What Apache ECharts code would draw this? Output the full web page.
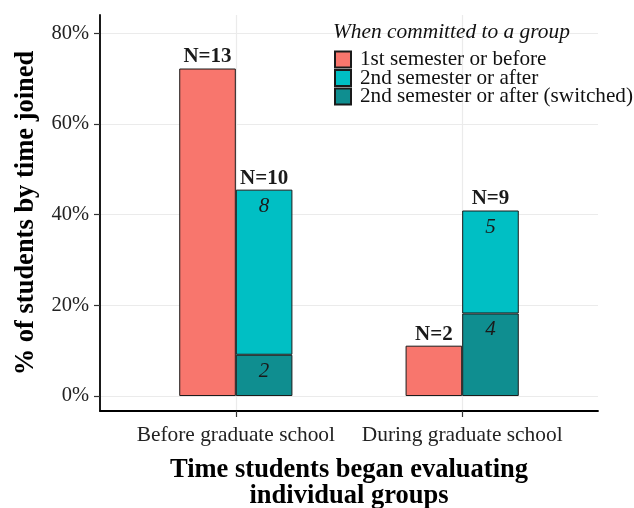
<!DOCTYPE html>
<html>
<head>
<meta charset="utf-8">
<script src="https://cdn.jsdelivr.net/npm/echarts@6/dist/echarts.min.js"></script>
<style>
html,body{margin:0;padding:0;background:#fff;}
#c{width:634px;height:508px;}
</style>
</head>
<body>
<div id="c"></div>
<script>
// ---- data ----
var categories = ['Before graduate school', 'During graduate school'];
var categoryPos = [1, 2];
var firstPct = [72.2, 11.1];
var firstN = [13, 2];
var secondPct = [36.4, 22.7];
var secondCount = [8, 5];
var switchedPct = [9.1, 18.2];
var switchedCount = [2, 4];
var secondTotalN = [10, 9];
var totalsBase = [0, 0];
var yTicks = [0, 20, 40, 60, 80];
var seriesNames = ['1st semester or before', '2nd semester or after', '2nd semester or after (switched)'];

var FONT = '"Liberation Serif", "DejaVu Serif", serif';

// discrete-axis geometry (ggplot style: 0.6 expansion on each side)
var G_LEFT = 100, G_RIGHT = 36, W = 634;
var plotW = W - G_LEFT - G_RIGHT;
var unit = plotW / 2.2;
var YMIN = -3.3, YMAX = 84;

var chart = echarts.init(document.getElementById('c'));
var border = { borderColor: '#1a1a1a', borderWidth: 1 };
var barW = '25%';
chart.setOption({
  animation: false,
  textStyle: { fontFamily: FONT },
  grid: [
    { left: G_LEFT, right: G_RIGHT, top: 15, bottom: 97, containLabel: false, outerBoundsMode: 'none' },
    { left: G_LEFT + 0.1 * unit, right: G_RIGHT + 0.1 * unit, top: 15, bottom: 97, containLabel: false, outerBoundsMode: 'none' }
  ],
  title: {
    text: 'When committed to a group',
    left: 328, top: 17,
    textStyle: { fontFamily: FONT, fontStyle: 'italic', fontWeight: 'normal', fontSize: 21.4, color: '#111' }
  },
  legend: {
    data: seriesNames,
    orient: 'vertical',
    left: 329, top: 44,
    itemWidth: 16, itemHeight: 16, itemGap: -2.5,
    icon: 'rect',
    textStyle: { fontFamily: FONT, fontSize: 21.2, color: '#111', padding: [0, 0, 0, 4] }
  },
  xAxis: [
    {
      gridIndex: 0,
      type: 'value',
      min: 0.4, max: 2.6,
      axisLine: { show: true, onZero: false, lineStyle: { color: '#000', width: 1.8 } },
      axisTick: { show: true, customValues: categoryPos, length: 6, lineStyle: { color: '#333', width: 1.2 } },
      axisLabel: {
        customValues: categoryPos,
        formatter: function (v) { return categories[categoryPos.indexOf(v)] || ''; },
        fontFamily: FONT, fontSize: 21.4, color: '#222', margin: 14
      },
      splitLine: { show: true, lineStyle: { color: '#ebebeb', width: 1.2 } },
      name: 'Time students began evaluating\nindividual groups',
      nameLocation: 'middle',
      nameGap: 46,
      nameTextStyle: { fontFamily: FONT, fontWeight: 'bold', fontSize: 26.5, color: '#000', lineHeight: 26, verticalAlign: 'top' }
    },
    {
      gridIndex: 1,
      type: 'category',
      data: categories,
      show: false
    }
  ],
  yAxis: [
    {
      gridIndex: 0,
      type: 'value',
      min: YMIN, max: YMAX,
      axisLine: { show: true, onZero: false, lineStyle: { color: '#000', width: 1.8 } },
      axisTick: { show: true, customValues: yTicks, length: 6, lineStyle: { color: '#333', width: 1.2 } },
      axisLabel: {
        customValues: yTicks,
        formatter: '{value}%',
        fontFamily: FONT, fontSize: 20.5, color: '#222', margin: 11
      },
      splitLine: { show: true, lineStyle: { color: '#ebebeb', width: 1.2 } },
      name: '% of students by time joined',
      nameLocation: 'middle',
      nameGap: 60,
      nameTextStyle: { fontFamily: FONT, fontWeight: 'bold', fontSize: 26.5, color: '#000' }
    },
    {
      gridIndex: 1,
      type: 'value',
      min: YMIN, max: YMAX,
      show: false,
      splitLine: { show: false }
    }
  ],
  series: [
    {
      name: seriesNames[0], type: 'bar', stack: 'a',
      xAxisIndex: 1, yAxisIndex: 1,
      barWidth: barW, barGap: '0%',
      data: firstPct,
      itemStyle: Object.assign({ color: '#F8766D' }, border),
      label: {
        show: true, position: 'top', distance: 1,
        formatter: function (p) { return 'N=' + firstN[p.dataIndex]; },
        fontFamily: FONT, fontWeight: 'bold', fontSize: 21, color: '#1a1a1a'
      }
    },
    {
      name: seriesNames[2], type: 'bar', stack: 'b',
      xAxisIndex: 1, yAxisIndex: 1,
      barWidth: barW, barGap: '0%',
      data: switchedPct,
      itemStyle: Object.assign({ color: '#0F8E90' }, border),
      label: {
        show: true, position: 'insideTop', distance: 6,
        formatter: function (p) { return switchedCount[p.dataIndex]; },
        fontFamily: FONT, fontStyle: 'italic', fontSize: 21, color: '#1a1a1a'
      }
    },
    {
      name: seriesNames[1], type: 'bar', stack: 'b',
      xAxisIndex: 1, yAxisIndex: 1,
      barWidth: barW, barGap: '0%',
      data: secondPct,
      itemStyle: Object.assign({ color: '#00BFC4' }, border),
      label: {
        show: true, position: 'insideTop', distance: 6,
        formatter: function (p) { return secondCount[p.dataIndex]; },
        fontFamily: FONT, fontStyle: 'italic', fontSize: 21, color: '#1a1a1a'
      }
    },
    {
      name: 'totals', type: 'bar', stack: 'b',
      xAxisIndex: 1, yAxisIndex: 1,
      barWidth: barW, barGap: '0%',
      data: totalsBase,
      itemStyle: { color: 'transparent', borderWidth: 0 },
      label: {
        show: true, position: 'top', distance: 1,
        formatter: function (p) { return 'N=' + secondTotalN[p.dataIndex]; },
        fontFamily: FONT, fontWeight: 'bold', fontSize: 21, color: '#1a1a1a'
      }
    }
  ]
});
</script>
</body>
</html>
